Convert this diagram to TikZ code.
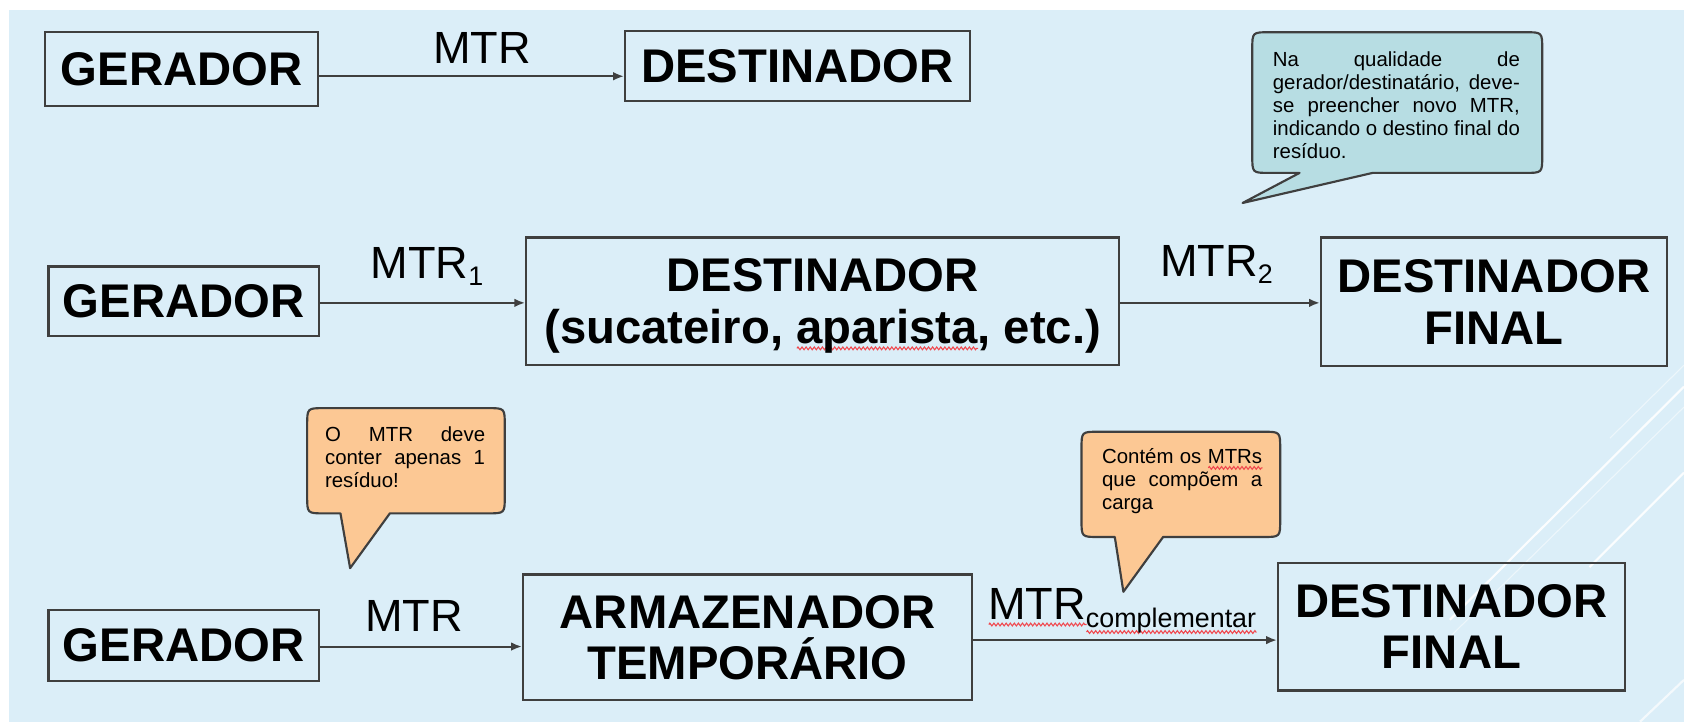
\documentclass[tikz,border=0pt]{standalone}
\usepackage{fontspec}
\setmainfont{Liberation Sans}
\usepackage{tikz}
\usetikzlibrary{arrows.meta, decorations.pathmorphing}
\usepackage{xcolor}

\definecolor{bgblue}{HTML}{DBEEF8}
\definecolor{boxline}{HTML}{3F3F3F}
\definecolor{tealfill}{HTML}{B7DDE3}
\definecolor{orangefill}{HTML}{FCC894}
\definecolor{spellred}{HTML}{F0484E}

\newsavebox{\wavebox}
\newcommand{\spellwave}[1]{\sbox{\wavebox}{#1}\rlap{\tikz[baseline=0pt]\draw[spellred, line width=1pt, decorate, decoration={zigzag, amplitude=1.3pt, segment length=3.8pt}] (0pt,-4.5pt) -- (\wd\wavebox,-4.5pt);}\usebox{\wavebox}}
\newcommand{\mtrsub}[1]{\raisebox{-7pt}{\fontsize{25}{25}\selectfont #1}}

\begin{document}
\begin{tikzpicture}[x=1pt, y=-1pt,
	box/.style={draw=boxline, line width=2.2pt, inner sep=0pt, align=center, text depth=0pt, font=\fontsize{44}{48}\selectfont\bfseries},
	flow/.style={draw=boxline, line width=1.8pt, -{Latex[length=10pt,width=8pt]}},
	mtr/.style={inner sep=0pt, anchor=base west, font=\fontsize{42}{42}\selectfont},
	balloon/.style={draw=boxline, line width=2pt, line join=round},
	note/.style={inner sep=0pt, anchor=north west, align=left, font=\fontsize{19}{21.5}\selectfont},
	deco/.style={white, line width=2pt}]
					\useasboundingbox (0,0) rectangle (1568,672);
					\fill[white] (0,0) rectangle (1568,672);
					\fill[bgblue] (8.5,9.5) rectangle (1568,672);
					
					% light streaks on the right
					\draw[deco, opacity=.5, line width=1pt] (1499,408) -- (1568,340);
					\draw[deco, opacity=.9] (1350,577) -- (1568,360);
					\draw[deco, opacity=.5, line width=1pt] (1350,593) -- (1568,379);
					\draw[deco, opacity=.9] (1480,528) -- (1568,440);
					\draw[deco, opacity=.7] (1527,672) -- (1568,633);
					
					\node[box, minimum width=254, minimum height=69] at (169,64) (gen1) {GERADOR};
					\node[box, minimum width=321, minimum height=65] at (742.5,61.5) (dest1) {DESTINADOR};
					
					\node[box, minimum width=252, minimum height=65] at (171,280.5) (gen2) {GERADOR};
					\node[box, minimum width=552, minimum height=119] at (766,280.5) (dest2) {DESTINADOR\\(sucateiro, \spellwave{aparista}, etc.)};
					\node[box, minimum width=322, minimum height=120] at (1391,281) (final2) {DESTINADOR\\FINAL};
					
					\node[box, minimum width=252, minimum height=66] at (171,601) (gen3) {GERADOR};
					\node[box, minimum width=418, minimum height=117] at (696,593.5) (store3) {ARMAZENADOR\\TEMPORÁRIO};
					\node[box, minimum width=323, minimum height=119] at (1351.5,583.5) (final3) {DESTINADOR\\FINAL};
					
					\draw[flow] (gen1.east |- 0,71) -- (dest1.west |- 0,71);
					\draw[flow] (gen2.east |- 0,282) -- (dest2.west |- 0,282);
					\draw[flow] (dest2.east |- 0,282) -- (final2.west |- 0,282);
					\draw[flow] (gen3.east |- 0,602) -- (store3.west |- 0,602);
					\draw[flow] (store3.east |- 0,596) -- (final3.west |- 0,596);
					
					\node[mtr] at (403,59) (mtr1) {MTR};
					\node[mtr] at (345,259) (mtr2a) {MTR\mtrsub{1}};
					\node[mtr] at (1080,257) (mtr2b) {MTR\mtrsub{2}};
					\node[mtr] at (340,588) (mtr3a) {MTR};
					\node[mtr] at (920,577) (mtr3b) {\spellwave{MTR}\mtrsub{\spellwave{complementar}}};
					
					% speech balloons
					\draw[balloon, fill=tealfill] (1210,161) -- (1157,189) -- (1278,161) -- (1420,161) .. controls (1436,161) .. (1436,145) -- (1436,46) .. controls (1436,30) .. (1420,30) -- (1182,30) .. controls (1166,30) .. (1166,46) -- (1166,145) .. controls (1166,161) .. (1182,161) -- cycle;
					\node[note] at (1185,48) (note1) {\makebox[230pt][s]{Na qualidade de}\\\makebox[230pt][s]{gerador/destinatário, deve-}\\\makebox[230pt][s]{se preencher novo MTR,}\\\makebox[230pt][s]{indicando o destino final do}\\resíduo.};
					
					\draw[balloon, fill=orangefill] (317,478) -- (326,529) -- (363,478) -- (454,478) .. controls (470,478) .. (470,462) -- (470,396) .. controls (470,380) .. (454,380) -- (302,380) .. controls (286,380) .. (286,396) -- (286,462) .. controls (286,478) .. (302,478) -- cycle;
					\node[note] at (302.5,397) (note2) {\makebox[149pt][s]{O MTR deve}\\\makebox[149pt][s]{conter apenas 1}\\resíduo!};
					
					\draw[balloon, fill=orangefill] (1038,500) -- (1046,551) -- (1083,500) -- (1176,500) .. controls (1192,500) .. (1192,484) -- (1192,418) .. controls (1192,402) .. (1176,402) -- (1023,402) .. controls (1007,402) .. (1007,418) -- (1007,484) .. controls (1007,500) .. (1023,500) -- cycle;
					\node[note] at (1026,417) (note3) {\makebox[149pt][s]{Contém os \spellwave{MTRs}}\\\makebox[149pt][s]{que compõem a}\\carga};
				\end{tikzpicture}
\end{document}
